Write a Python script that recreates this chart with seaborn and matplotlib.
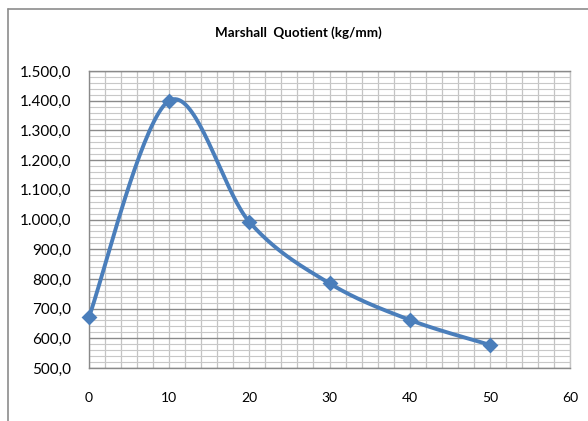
import numpy as np
import pandas as pd
import seaborn as sns
import matplotlib
matplotlib.use("Agg")
import matplotlib.pyplot as plt
from matplotlib.lines import Line2D
from matplotlib.ticker import FuncFormatter, MultipleLocator

# Data
content_pct = [0, 10, 20, 30, 40, 50]
marshall_quotient = [672, 1400, 992, 785, 662, 578]
title = "Marshall  Quotient (kg/mm)"

sns.set_theme(style="white")
plt.rcParams["font.family"] = ["Lato", "DejaVu Sans"]

fig = plt.figure(figsize=(5.88, 4.21), dpi=100)
ax = fig.add_axes([89/588, 1-368/421, (570-89)/588, (368-71)/421])

# Excel-like smoothed curve (Catmull-Rom style bezier)
def smooth(xs, ys, n=40):
    xs = np.asarray(xs, float); ys = np.asarray(ys, float)
    px = np.concatenate([[xs[0]], xs, [xs[-1]]])
    py = np.concatenate([[ys[0]], ys, [ys[-1]]])
    out_x, out_y = [], []
    for i in range(1, len(px) - 2):
        p0 = np.array([px[i-1], py[i-1]]); p1 = np.array([px[i], py[i]])
        p2 = np.array([px[i+1], py[i+1]]); p3 = np.array([px[i+2], py[i+2]])
        c1 = p1 + (p2 - p0) / 6.0
        c2 = p2 - (p3 - p1) / 6.0
        t = np.linspace(0, 1, n)[:, None]
        b = ((1-t)**3)*p1 + 3*((1-t)**2)*t*c1 + 3*(1-t)*t**2*c2 + t**3*p2
        out_x.extend(b[:, 0]); out_y.extend(b[:, 1])
    return np.array(out_x), np.array(out_y)

sx, sy = smooth(content_pct, marshall_quotient)
curve = pd.DataFrame({"x": sx, "y": sy})
pts = pd.DataFrame({"x": content_pct, "y": marshall_quotient})

color = "#4A7EBB"
sns.lineplot(data=curve, x="x", y="y", ax=ax, color=color, linewidth=2.8,
             sort=False, estimator=None, zorder=3)
sns.scatterplot(data=pts, x="x", y="y", ax=ax, color=color, marker="D",
                s=65, edgecolor=color, linewidth=0, zorder=4, clip_on=False)

ax.set_xlim(0, 60)
ax.set_ylim(500, 1500)
ax.xaxis.set_major_locator(MultipleLocator(10))
ax.xaxis.set_minor_locator(MultipleLocator(2))
ax.yaxis.set_major_locator(MultipleLocator(100))
ax.yaxis.set_minor_locator(MultipleLocator(20))

def fmt(v, pos):
    s = f"{v:,.1f}"
    return s.replace(",", "X").replace(".", ",").replace("X", ".")
ax.yaxis.set_major_formatter(FuncFormatter(fmt))

ax.grid(axis="y", which="major", color="#8a8a8a", linewidth=1.0)
ax.grid(axis="y", which="minor", color="#c8c8c8", linewidth=0.8)
ax.grid(axis="x", which="both", color="#c4c4c4", linewidth=0.9)
ax.set_axisbelow(True)
for s in ax.spines.values():
    s.set_color("#c4c4c4")
    s.set_linewidth(1.0)
ax.spines["left"].set_color("#8a8a8a")
ax.spines["bottom"].set_color("#8a8a8a")
ax.spines["top"].set_color("#8a8a8a")

ax.tick_params(axis="both", which="major", length=4, width=1, color="#8a8a8a",
               direction="out", colors="black")
ax.tick_params(axis="y", which="major", labelsize=11, pad=9)
ax.tick_params(axis="x", which="major", labelsize=10, pad=13)
ax.tick_params(which="minor", length=0)
ax.set_xlabel("")
ax.set_ylabel("")

fig.text(298/588, 1-33/421, title, ha="center", va="center",
         fontsize=9.6, fontweight="bold", color="black")

# Outer chart frame
fig.add_artist(Line2D([7.5/588, 7.5/588], [0, 1-9/421], transform=fig.transFigure,
                      color="#8c8c8c", linewidth=1.2))
fig.add_artist(Line2D([7.5/588, 1], [1-9/421, 1-9/421], transform=fig.transFigure,
                      color="#8c8c8c", linewidth=1.2))

fig.savefig("out.png", dpi=100)
